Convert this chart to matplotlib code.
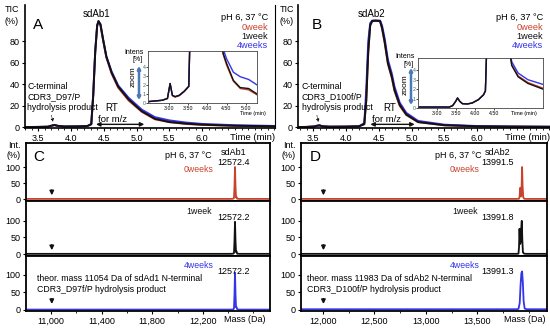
import matplotlib
matplotlib.use('Agg')
import matplotlib.pyplot as plt
from matplotlib.ticker import MultipleLocator

plt.rcParams['font.family'] = ['Liberation Sans', 'DejaVu Sans']

RED = '#c8432c'
BLUE = '#3434e8'
BLACK = '#111111'
ZOOM_BLUE = '#4a78b8'
W, H = 550, 330

# ---- TIC chromatograms, sdAb1 (panel A) ----
tA = [3.30, 3.50, 3.65, 3.70, 3.75, 3.80, 3.90, 4.10, 4.25, 4.31, 4.34, 4.37, 4.40, 4.42,
      4.45, 4.49, 4.54, 4.62, 4.72, 4.88, 5.08, 5.28, 5.50, 5.75, 6.00, 6.50, 7.11]
ticA_0w = [0.3, 0.4, 0.6, 1.4, 2.0, 1.3, 0.8, 0.9, 1.2, 3, 30, 70, 95, 98,
           95, 81, 65, 50, 37, 25, 14.5, 7.5, 4.8, 3.2, 2.3, 1.4, 0.9]
ticA_1w = [0.3, 0.4, 0.6, 1.5, 2.2, 1.4, 0.8, 0.9, 1.2, 3, 30, 70, 95, 99,
           96, 82, 66, 51, 38, 26, 15, 8, 5, 3.5, 2.5, 1.5, 1.0]
ticA_4w = [0.3, 0.4, 0.6, 1.5, 2.2, 1.4, 0.8, 0.9, 1.2, 3, 31, 71, 95, 99,
           96, 82, 66, 52, 39, 27.5, 16.5, 9.5, 6.5, 4.5, 3.2, 2.0, 1.3]

# ---- TIC chromatograms, sdAb2 (panel B) ----
tB = [3.27, 3.40, 3.52, 3.56, 3.60, 3.64, 3.75, 4.00, 4.20, 4.28, 4.31, 4.34, 4.37, 4.40,
      4.45, 4.52, 4.55, 4.59, 4.64, 4.70, 4.74, 4.82, 4.92, 5.10, 5.50, 6.00, 6.50, 7.11]
ticB_0w = [0.3, 0.4, 0.8, 1.5, 1.8, 1.0, 0.6, 0.7, 1.0, 3, 25, 70, 95, 99,
           99, 99, 92, 79, 59, 46, 34, 20, 11.5, 4.8, 1.9, 1.0, 0.7, 0.5]
ticB_1w = [0.3, 0.4, 0.8, 1.5, 1.8, 1.0, 0.6, 0.7, 1.0, 3, 25, 70, 95, 99,
           99.5, 99, 93, 80, 60, 47, 35, 21, 12, 5, 2, 1, 0.7, 0.5]
ticB_4w = [0.3, 0.4, 0.8, 1.5, 1.8, 1.0, 0.6, 0.7, 1.0, 4, 35, 80, 97, 99.5,
           99.5, 99.5, 95, 83, 63, 50, 38, 23, 13.5, 6, 2.5, 1.2, 0.8, 0.6]

# ---- zoomed insets (Intens %) ----
insA_t = [2.44, 2.81, 2.95, 3.02, 3.08, 3.15, 3.26, 3.39, 3.51, 3.54, 4.37, 4.41, 4.50,
          4.68, 4.86, 5.08, 5.30]
insA_0w = [0.15, 0.3, 0.5, 2.1, 0.8, 0.65, 0.8, 1.25, 1.8, 7, 7, 5.4, 4.2, 2.4, 1.6, 1.45, 0.9]
insA_1w = [0.15, 0.3, 0.5, 2.15, 0.85, 0.7, 0.85, 1.3, 1.85, 7, 7, 5.5, 4.4, 2.5, 1.7, 1.6, 1.0]
insA_4w = [0.15, 0.3, 0.5, 2.15, 0.85, 0.7, 0.85, 1.3, 1.85, 7, 7, 6, 4.9, 3.4, 2.9, 2.6, 2.0]

insB_t = [2.49, 3.32, 3.41, 3.49, 3.54, 3.60, 3.67, 3.80, 3.93, 4.10, 4.23, 4.28, 4.32,
          4.89, 4.98, 5.15, 5.41, 5.81]
insB_0w = [0.1, 0.1, 0.25, 0.7, 1.06, 0.7, 0.46, 0.43, 0.53, 0.9, 1.4, 1.8, 7, 7, 4.6, 3.4, 2.7, 2.1]
insB_1w = [0.1, 0.1, 0.25, 0.7, 1.06, 0.7, 0.46, 0.43, 0.53, 0.9, 1.4, 1.8, 7, 7, 4.5, 3.3, 2.6, 2.0]
insB_4w = [0.1, 0.1, 0.25, 0.7, 1.06, 0.7, 0.46, 0.43, 0.53, 0.9, 1.4, 1.8, 7, 7, 4.9, 3.7, 3.0, 2.5]

# ---- deconvoluted mass spectra (Int. %) ----
mC = [10801, 12420, 12440, 12447, 12451, 12455, 12459, 12463, 12467, 12472, 12490, 12732]
intC_0w = [0.5, 0.5, 1, 3, 40, 100, 40, 5, 7, 1, 0.5, 0.5]
intC_1w = [0.5, 0.5, 1, 3, 40, 97, 40, 6, 8, 1, 0.5, 0.5]
intC_4w = [1, 1, 1.5, 4, 45, 106, 45, 8, 9, 2, 1, 1]

mD_0w = [11787, 13880, 13905, 13911, 13916, 13921, 13926, 13931, 13935, 13940, 13946, 13955, 13975, 14177]
intD_0w = [0.5, 0.5, 1, 8, 35, 12, 8, 45, 100, 40, 6, 1, 0.5, 0.5]
mD_1w = [11787, 13880, 13900, 13905, 13910, 13916, 13921, 13927, 13932, 13937, 13943, 13955, 13975, 14177]
intD_1w = [0.5, 0.5, 1, 20, 76, 30, 35, 80, 100, 45, 5, 1, 0.5, 0.5]
mD_4w = [11787, 13880, 13900, 13912, 13920, 13928, 13935, 13942, 13950, 13960, 13980, 14177]
intD_4w = [2, 2, 3, 20, 70, 105, 110, 80, 25, 4, 2, 2]

week_labels = ['0week', '1week', '4weeks']
ms_week_labels = ['0weeks', '1week', '4weeks']
week_colors = [RED, BLACK, BLUE]

fig = plt.figure(figsize=(5.5, 3.3), dpi=100)


def box(x0, y0, x1, y1):
    return fig.add_axes([x0 / W, 1 - y1 / H, (x1 - x0) / W, (y1 - y0) / H])


def ftext(x, y, s, **kw):
    kw.setdefault('fontsize', 6.5)
    kw.setdefault('va', 'center')
    fig.text(x / W, 1 - y / H, s, **kw)


def farrow(x0, y0, x1, y1, **kw):
    fig.add_artist(matplotlib.patches.FancyArrowPatch(
        (x0 / W, 1 - y0 / H), (x1 / W, 1 - y1 / H), transform=fig.transFigure, **kw))


def tic_panel(ax, t, s0, s1, s4, xlim):
    ax.plot(t, s0, color=RED, lw=1.4)
    ax.plot(t, s4, color=BLUE, lw=1.4)
    ax.plot(t, s1, color=BLACK, lw=1.4)
    ax.set_xlim(xlim)
    ax.set_ylim(-0.6, 114)
    ax.set_xticks([3.5, 4.0, 4.5, 5.0, 5.5, 6.0])
    ax.xaxis.set_minor_locator(MultipleLocator(0.1))
    ax.set_yticks([0, 20, 40, 60, 80])
    ax.tick_params(labelsize=6.5, length=2.5, width=0.8, pad=1.5)
    ax.tick_params(which='minor', length=1.3, width=0.6)
    for side in ('top', 'right'):
        ax.spines[side].set_visible(False)
    for side in ('left', 'bottom'):
        ax.spines[side].set_linewidth(1.2)


def inset(ax, t, s0, s1, s4, xlim, ymax, xticks):
    ax.plot(t, s0, color=RED, lw=1.0)
    ax.plot(t, s4, color=BLUE, lw=1.0)
    ax.plot(t, s1, color=BLACK, lw=1.0)
    ax.set_xlim(xlim)
    ax.set_ylim(0, ymax)
    ax.set_xticks(xticks)
    ax.set_xticklabels(['%.2f' % v for v in xticks])
    ax.set_yticks([0, 1, 2, 3, 4])
    ax.tick_params(labelsize=3.8, length=1.2, width=0.5, pad=1)
    ax.tick_params(axis='y', labelcolor='#2f6f66', pad=0.5)
    for sp in ax.spines.values():
        sp.set_linewidth(0.6)
        sp.set_color('#444444')


def ms_panels(x0, x1, masses, ints, xlim, xticks, minor):
    tops = [143, 201, 256, 311]
    ylims = [(-6, 175), (-6, 160), (-3, 154)]
    axes = []
    for i in range(3):
        ax = box(x0, tops[i], x1, tops[i + 1])
        ax.plot(masses[i], ints[i], color=week_colors[i], lw=1.3)
        ax.set_xlim(xlim)
        ax.set_ylim(ylims[i])
        ax.set_yticks([0, 50, 100])
        ax.set_xticks(xticks)
        ax.xaxis.set_minor_locator(MultipleLocator(minor))
        ax.tick_params(labelsize=6.5, length=2.5, width=0.8, pad=1.5)
        ax.tick_params(which='minor', length=1.3, width=0.6)
        if i < 2:
            ax.tick_params(labelbottom=False)
        else:
            ax.set_xticklabels(['{:,}'.format(v) for v in xticks])
        for sp in ax.spines.values():
            sp.set_linewidth(1.3)
        axes.append(ax)
    return axes


# ---------------- panel A ----------------
axA = box(25, 5, 275, 128)
tic_panel(axA, tA, ticA_0w, ticA_1w, ticA_4w, (3.30, 7.11))
axA.spines['right'].set_visible(True)
axA.spines['right'].set_linewidth(0.8)
axA.annotate('', xy=(4.34, 2.8), xytext=(5.16, 2.8),
             arrowprops=dict(arrowstyle='<|-|>', color=BLACK, lw=1.0, mutation_scale=6))
axA.annotate('', xy=(3.74, 2.5), xytext=(3.69, 13.5),
             arrowprops=dict(arrowstyle='-|>', color=BLACK, lw=0.6, ls=':', mutation_scale=4))

insA = box(148, 51, 257, 103)
inset(insA, insA_t, insA_0w, insA_1w, insA_4w, (2.44, 5.30), 5.74, [3.0, 3.5, 4.0, 4.5, 5.0])

# ---------------- panel B ----------------
axB = box(298, 5, 550, 128)
tic_panel(axB, tB, ticB_0w, ticB_1w, ticB_4w, (3.27, 7.11))
axB.annotate('', xy=(4.33, 2.8), xytext=(5.09, 2.8),
             arrowprops=dict(arrowstyle='<|-|>', color=BLACK, lw=1.0, mutation_scale=6))
axB.annotate('', xy=(3.59, 2.3), xytext=(3.55, 13.5),
             arrowprops=dict(arrowstyle='-|>', color=BLACK, lw=0.6, ls=':', mutation_scale=4))

insB = box(418, 58, 543, 108)
inset(insB, insB_t, insB_0w, insB_1w, insB_4w, (2.49, 5.81), 5.3, [3.0, 3.5, 4.0, 4.5])

# ---------------- panels C and D ----------------
axC = ms_panels(26, 270, [mC, mC, mC], [intC_0w, intC_1w, intC_4w],
                (10801, 12732), [11000, 11400, 11800, 12200], 200)
axD = ms_panels(301, 547, [mD_0w, mD_1w, mD_4w], [intD_0w, intD_1w, intD_4w],
                (11787, 14177), [12000, 12500, 13000, 13500], 250)

arrow_kw = dict(arrowstyle='-|>', color=BLACK, lw=1.1, mutation_scale=6)
for ax, xa, spans in ((axC, 11005, [(37, 3), (36, 3), (40, 9)]),
                      (axD, 12005, [(37, 3), (36, 3), (40, 9)])):
    for a, (y0, y1) in zip(ax, spans):
        a.annotate('', xy=(xa, y1), xytext=(xa, y0), arrowprops=arrow_kw)

# ---------------- texts ----------------
for dx, letter, name, ctext in ((0, 'A', 'sdAb1', 'C-terminal\nCDR3_D97/P\nhydrolysis product'),
                                (275, 'B', 'sdAb2', 'C-terminal\nCDR3_D100f/P\nhydrolysis product')):
    ftext(19 + dx, 10, 'TIC', ha='right')
    ftext(19 + dx, 22, '(%)', ha='right')
    ftext(33 + dx + (4 if dx else 0), 25, letter, fontsize=11)
    ftext(97 + dx, 14, name, ha='center', fontsize=7)
    ftext(268 + dx, 17, 'pH 6, 37 °C', ha='right', fontsize=6.6)
    for lab, col, y in zip(week_labels, week_colors, (27.5, 36.5, 45)):
        ftext(268 + dx, y, lab, ha='right', color=col, fontsize=6.6)
    ftext(27 + dx, 97, ctext, ha='left', fontsize=6.3, linespacing=1.25)
    ftext(253 + dx, 137, 'Time (min)', ha='center', fontsize=6.8)

ftext(112, 108, 'RT', ha='center', fontsize=7)
ftext(112, 119, 'for m/z', ha='center', fontsize=6.8)
ftext(390, 108, 'RT', ha='center', fontsize=7)
ftext(387, 119, 'for m/z', ha='center', fontsize=6.8)

# inset decorations
ftext(144, 52, 'Intens', ha='right', fontsize=5)
ftext(143, 59.5, '[%]', ha='right', fontsize=5)
ftext(133, 77, 'zoom', rotation=90, ha='center', fontsize=6)
farrow(139, 63, 139, 103, arrowstyle='<|-|>', color=ZOOM_BLUE, lw=1.8, mutation_scale=4)
ftext(253, 114, 'Time (min)', ha='center', fontsize=4)

ftext(415, 57, 'Intens', ha='right', fontsize=5)
ftext(414, 64, '[%]', ha='right', fontsize=5)
ftext(405, 85, 'zoom', rotation=90, ha='center', fontsize=6)
farrow(411, 65, 411, 108, arrowstyle='<|-|>', color=ZOOM_BLUE, lw=1.8, mutation_scale=4)
ftext(524, 114, 'Time (min)', ha='center', fontsize=4)

# mass spectra texts
for dx, name, masses, theo in ((0, 'sdAb1', ['12572.4', '12572.2', '12572.2'],
                                'theor. mass 11054 Da of sdAd1 N-terminal\nCDR3_D97f/P hydrolysis product'),
                               (275, 'sdAb2', ['13991.5', '13991.8', '13991.3'],
                                'theor. mass 11983 Da of sdAb2 N-terminal\nCDR3_D100f/P hydrolysis product')):
    ftext(21 + dx, 146, 'Int.', ha='right')
    ftext(21 + dx, 155, '(%)', ha='right')
    ftext(33 + dx + (2 if dx else 0), 157, 'C' if dx == 0 else 'D', fontsize=11)
    ftext(165 + dx - (5 if dx else 0), 155, 'pH 6, 37 °C', ha='left')
    mx = 234 + dx - (11 if dx else 0)
    ftext(mx, 152, name, ha='center')
    ftext(mx, 162, masses[0], ha='center')
    lx = 199 + dx - (9 if dx else 0)
    for lab, col, y in zip(ms_week_labels, week_colors, (169, 212, 265)):
        ftext(lx, y, lab, ha='center', color=col, fontsize=6.3)
    ftext(mx, 217, masses[1], ha='center')
    ftext(mx, 272, masses[2], ha='center')
    ftext(37 + dx - (5 if dx else 0), 284, theo, ha='left', fontsize=6.3, linespacing=1.25)
    ftext(245 + dx + (5 if dx else 0), 320, 'Mass (Da)', ha='center')

fig.savefig('out.png', dpi=100)
